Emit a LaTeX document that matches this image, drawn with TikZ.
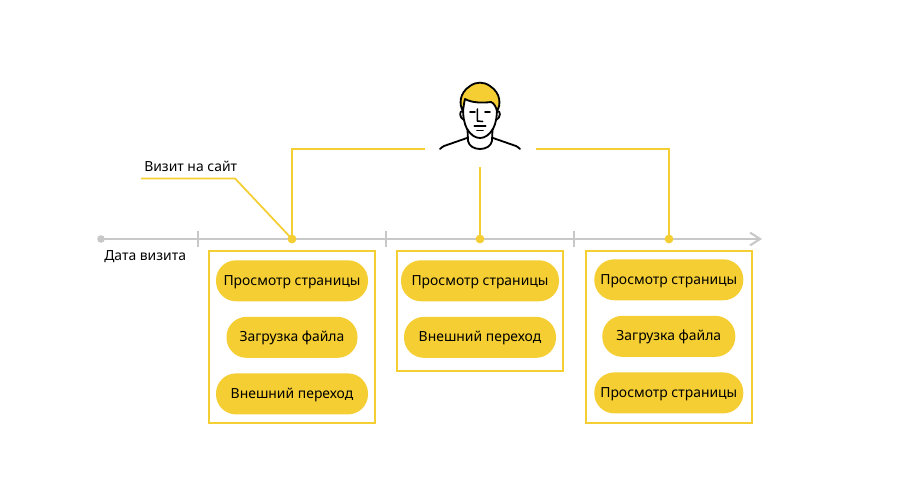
\documentclass[tikz,border=0pt]{standalone}
\usepackage{fontspec}
\setmainfont{Noto Sans}
\usetikzlibrary{arrows.meta,positioning}
\definecolor{visityellow}{RGB}{244,206,51}
\definecolor{axisgray}{RGB}{200,200,200}
\tikzset{
  actionpill/.style={rectangle,rounded corners=0.5cm,fill=visityellow,align=center,font=\fontsize{9.9}{11}\selectfont,text=black,inner sep=0pt,minimum height=1.025cm,text height=7.5pt,text depth=1.3pt},
  visitbox/.style={rectangle,draw=visityellow,line width=1.5pt,inner sep=0pt,minimum width=4.15cm},
  plainlabel/.style={font=\fontsize{9.9}{11}\selectfont,text=black,inner sep=0pt,text height=7.5pt,text depth=1.3pt},
  axisline/.style={draw=axisgray,line width=1.5pt},
  visitline/.style={draw=visityellow,line width=1.4pt},
  visitdot/.style={circle,fill=visityellow,inner sep=0pt,minimum size=0.22cm},
  facestroke/.style={draw=black,line width=1.3pt,line cap=round,line join=round}
}
\begin{document}
\begin{tikzpicture}
  \useasboundingbox (0,0) rectangle (22.5,12.2);

  %% Timeline
  \node[circle,fill=axisgray,inner sep=0pt,minimum size=0.19cm] (axisstart) at (2.525,6.225) {};
  \coordinate (axisend) at (19.05,6.225);
  \draw[axisline,-{Straight Barb[length=0.25cm,width=0.32cm]}] (axisstart.center) -- (axisend);
  \foreach \tx in {4.95,9.65,14.35}
    \draw[axisline] (\tx,6.025) -- (\tx,6.425);
  \node[plainlabel,anchor=west] (datelabel) at (2.6,5.8) {Дата визита};

  %% Visits
  \node[visitdot] (dot1) at (7.3,6.225) {};
  \node[visitdot] (dot2) at (12.0,6.225) {};
  \node[visitdot] (dot3) at (16.725,6.225) {};

  %% Boxes
  \node[visitbox,minimum height=4.3cm,anchor=north] (box1) at (7.3,5.95) {};
  \node[visitbox,minimum height=3cm,anchor=north] (box2) at (12.0,5.95) {};
  \node[visitbox,minimum height=4.3cm,anchor=north] (box3) at (16.72,5.95) {};

  %% First visit
  \node[actionpill,minimum width=3.8cm,below=0.25cm of box1.north] (view1) {Просмотр страницы};
  \node[actionpill,minimum width=3.275cm,below=0.375cm of view1] (load1) {Загрузка файла};
  \node[actionpill,minimum width=3.8cm,below=0.375cm of load1] (ext1) {Внешний переход};

  %% Second visit
  \node[actionpill,minimum width=3.95cm,below=0.25cm of box2.north] (view2) {Просмотр страницы};
  \node[actionpill,minimum width=3.8cm,below=0.375cm of view2] (ext2) {Внешний переход};

  %% Third visit
  \node[actionpill,minimum width=3.725cm,below=0.225cm of box3.north] (view3) {Просмотр страницы};
  \node[actionpill,minimum width=3.325cm,below=0.375cm of view3] (load3) {Загрузка файла};
  \node[actionpill,minimum width=3.725cm,below=0.375cm of load3] (view4) {Просмотр страницы};

  %% Callout
  \node[plainlabel,anchor=west] (visitlabel) at (3.6,8.02) {Визит на сайт};
  \coordinate (calloutstart) at (3.525,7.74);
  \coordinate (calloutbend) at (5.875,7.74);
  \draw[visitline,line width=1.25pt] (calloutstart) -- (calloutbend) -- (dot1.center);

  %% Person links
  \coordinate (linkleft) at (10.625,8.475);
  \coordinate (linkmid) at (12.0,8.025);
  \coordinate (linkright) at (13.4,8.475);
  \draw[visitline] (dot1.center) |- (linkleft);
  \draw[visitline] (linkmid) -- (dot2.center);
  \draw[visitline] (linkright) -| (dot3.center);

  %% Person
  \begin{scope}[shift={(12.0,8.475)},x=0.025cm,y=-0.025cm]
    % head
    \draw[facestroke,fill=white] (-17,-42) .. controls (-17,-32) and (-16,-26) .. (-13,-20)
      .. controls (-9,-14) and (-5,-11) .. (0,-11) .. controls (5,-11) and (9,-14) .. (13,-20)
      .. controls (16,-26) and (17,-32) .. (17,-42);
    % ears
    \draw[facestroke] (-17,-38) .. controls (-21,-39) and (-21,-31) .. (-16,-29);
    \draw[facestroke] (17,-38) .. controls (21,-39) and (21,-31) .. (16,-29);
    % hair
    \draw[facestroke,fill=visityellow] (-17,-38) .. controls (-21,-44) and (-21,-56) .. (-10,-63)
      .. controls (-4,-67.5) and (4,-67.5) .. (10,-63) .. controls (21,-56) and (21,-44) .. (17,-38)
      .. controls (16,-42) and (14,-46) .. (11,-47) .. controls (3,-46) and (-8,-46) .. (-15,-50)
      .. controls (-16,-46) and (-16.5,-42) .. (-17,-38) -- cycle;
    % face
    \draw[facestroke,line width=1.1pt] (-10,-37) -- (-5,-37);
    \draw[facestroke,line width=1.1pt] (5,-37) -- (10,-37);
    \draw[facestroke,line width=1.1pt] (-2.7,-40) -- (-2.7,-28) -- (2.7,-27.5);
    \draw[facestroke,line width=1.1pt] (-5.7,-23) -- (5.7,-23);
    \draw[facestroke,line width=1.1pt] (-3,-18.5) -- (3,-18.5);
    % neck and shoulders
    \draw[facestroke] (-12.5,-20) -- (-12,-8) .. controls (-11,-3) and (-6,0) .. (0,0)
      .. controls (6,0) and (11,-3) .. (12,-8) -- (12.5,-20);
    \draw[facestroke] (-13,-11) -- (-36,-3) .. controls (-38,-2) and (-39,-1) .. (-40,0);
    \draw[facestroke] (13,-11) -- (36,-3) .. controls (38,-2) and (39,-1) .. (40,0);
  \end{scope}
\end{tikzpicture}
\end{document}
